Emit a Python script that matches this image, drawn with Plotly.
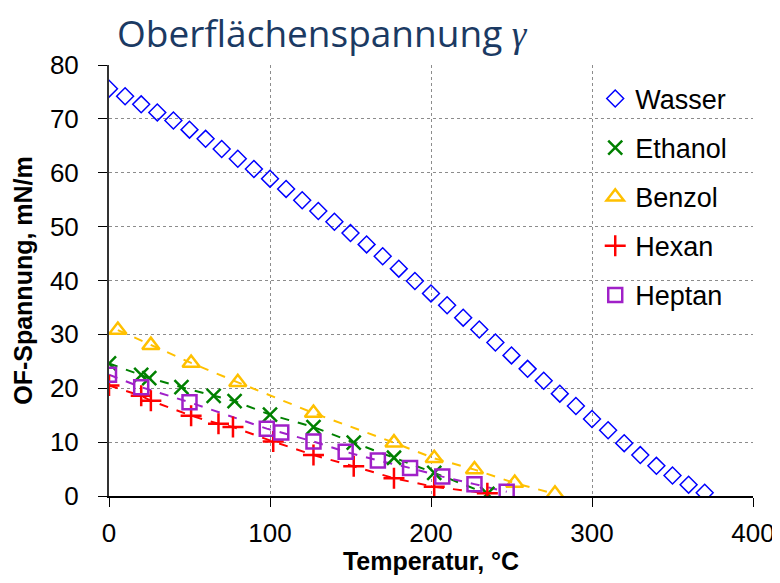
import plotly.graph_objs as go

# Oberflächenspannung verschiedener Flüssigkeiten
wasser_t = [0, 10, 20, 30, 40, 50, 60, 70, 80, 90, 100, 110, 120, 130, 140, 150, 160, 170, 180,
            190, 200, 210, 220, 230, 240, 250, 260, 270, 280, 290, 300, 310, 320, 330, 340, 350, 360, 370]
wasser_y = [75.6, 74.2, 72.7, 71.2, 69.7, 68.0, 66.3, 64.4, 62.6, 60.7, 58.9, 57.0, 54.9, 52.9, 50.9,
            48.8, 46.7, 44.5, 42.2, 39.9, 37.6, 35.4, 33.1, 30.9, 28.5, 26.1, 23.6, 21.4, 19.0, 16.7,
            14.3, 12.2, 9.8, 7.6, 5.6, 3.8, 2.1, 0.6]

ethanol_t = [0, 20, 25, 45, 65, 78, 100, 127, 152, 177, 202, 235]
ethanol_y = [24.6, 22.5, 21.9, 20.2, 18.6, 17.6, 15.1, 12.8, 9.9, 7.1, 4.3, 0.4]

benzol_t = [5.5, 26, 51, 80, 127, 177, 202, 227, 252, 277]
benzol_y = [30.8, 28.0, 24.7, 21.1, 15.4, 9.9, 7.0, 4.9, 2.4, 0.4]

hexan_t = [0, 20, 26, 51, 68, 77, 102, 127, 152, 177, 202, 235]
hexan_y = [20.5, 18.6, 17.7, 14.9, 13.4, 12.8, 10.1, 7.6, 5.5, 3.3, 1.7, 0.5]

heptan_t = [0, 20, 50, 98, 107, 127, 147, 167, 187, 207, 227, 247]
heptan_y = [22.5, 20.2, 17.4, 12.5, 11.8, 10.1, 8.2, 6.6, 5.2, 3.6, 2.2, 0.8]

series = [
    ('Wasser', wasser_t, wasser_y, '#0000FF', 'diamond-open', 13, 1.5, False),
    ('Ethanol', ethanol_t, ethanol_y, '#008000', 'x-thin-open', 14, 2.5, True),
    ('Benzol', benzol_t, benzol_y, '#FFC000', 'triangle-up-open', 15, 2.5, True),
    ('Hexan', hexan_t, hexan_y, '#FF0000', 'cross-thin-open', 15, 2.5, True),
    ('Heptan', heptan_t, heptan_y, '#A020C8', 'square-open', 14, 2.5, True),
]

fig = go.Figure()
# dashed trend lines first (drawn under the markers)
for name, t, y, color, symbol, size, lw, dashed in series:
    if dashed:
        fig.add_trace(go.Scatter(x=t, y=y, mode='lines', showlegend=False, hoverinfo='skip',
                                 line=dict(color=color, width=2, dash='dash')))
for name, t, y, color, symbol, size, lw, dashed in series:
    fig.add_trace(go.Scatter(x=t, y=y, mode='markers', name=name, legendgroup=name,
                             marker=dict(symbol=symbol, size=size, color=color,
                                         line=dict(color=color, width=lw))))

# the page puts the figure 8px in from the top-left corner
W, H = 772, 567
fig.update_layout(
    width=W, height=H,
    margin=dict(l=101, r=W - 745, t=57, b=79),
    paper_bgcolor='white', plot_bgcolor='white',
    font=dict(family='Liberation Sans, Arial', size=26, color='black'),
    title=dict(text='Oberflächenspannung <span style="font-family:\'Liberation Serif\'"><i>γ</i></span>',
               x=109 / W, xanchor='left', xref='container',
               y=1 - 26 / H, yanchor='middle', yref='container',
               font=dict(family='Open Sans', size=37, color='#1B3A63')),
    legend=dict(x=0.755, y=0.978, xanchor='left', yanchor='top', bgcolor='rgba(0,0,0,0)',
                font=dict(size=27), tracegroupgap=11, itemwidth=30),
    xaxis=dict(range=[0, 400], dtick=100, showgrid=True, gridcolor='#8c8c8c', griddash='dot',
               gridwidth=1, showline=True, linecolor='black', linewidth=2, automargin=False,
               ticks='outside', ticklen=9, tickcolor='black', zeroline=False, ticklabelstandoff=4,
               title=dict(text='<b>Temperatur, °C</b>', font=dict(size=25), standoff=14)),
    yaxis=dict(range=[0, 80], dtick=10, showgrid=True, gridcolor='#8c8c8c', griddash='dot',
               gridwidth=1, showline=True, linecolor='#333333', linewidth=2, automargin=False,
               ticks='outside', ticklen=9, tickcolor='black', zeroline=False, ticklabelstandoff=14,
               title=dict(text='<b>OF-Spannung, mN/m</b>', font=dict(size=25), standoff=10)),
)

fig.write_html("out.html")
